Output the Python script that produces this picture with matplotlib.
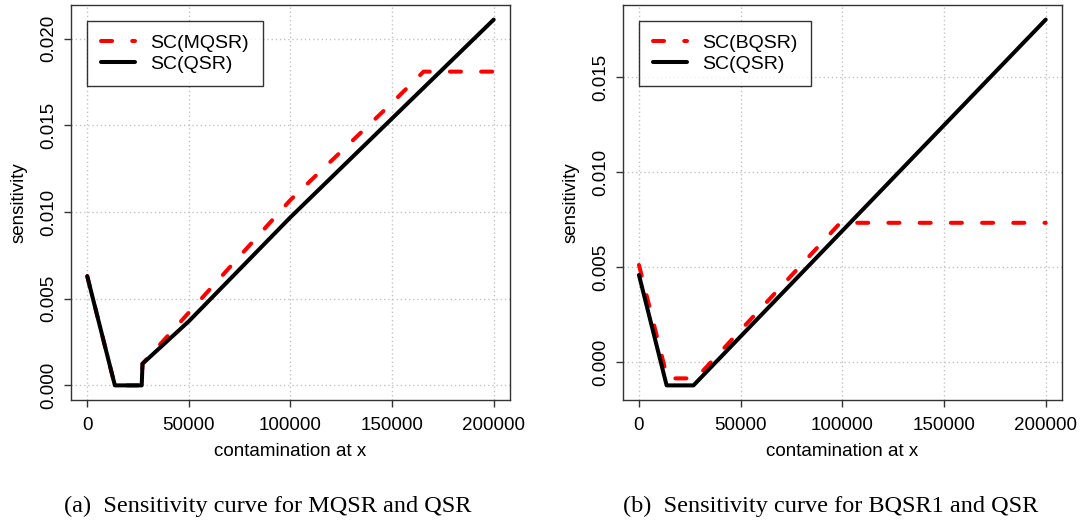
import matplotlib
matplotlib.use("Agg")
import matplotlib.pyplot as plt

plt.rcParams['font.family'] = ['Liberation Sans', 'DejaVu Sans']

# panel (a): MQSR vs QSR
xa_mqsr = [0, 13600, 26800, 27200, 50000, 100000, 125000, 150000, 165500, 200000]
ya_mqsr = [0.0063, 0.0, 0.0, 0.00125, 0.0042, 0.0107, 0.0135, 0.0163, 0.0181, 0.0181]
xa_qsr = [0, 13600, 26800, 27200, 50000, 100000, 150000, 200000]
ya_qsr = [0.0063, 0.0, 0.0, 0.00125, 0.0037, 0.0097, 0.0154, 0.0211]

# panel (b): BQSR vs QSR
xb_bqsr = [0, 14000, 28000, 99000, 200000]
yb_bqsr = [0.00512, -0.00086, -0.00086, 0.00734, 0.00734]
xb_qsr = [0, 13600, 26800, 200000]
yb_qsr = [0.00459, -0.00123, -0.00123, 0.01805]

xticks = [0, 50000, 100000, 150000, 200000]
yticks_a = [0.000, 0.005, 0.010, 0.015, 0.020]
yticks_b = [0.000, 0.005, 0.010, 0.015]

captions = ["(a)  Sensitivity curve for MQSR and QSR",
            "(b)  Sensitivity curve for BQSR1 and QSR"]

fig = plt.figure(figsize=(10.82, 5.26), dpi=100)
ax1 = fig.add_axes([0.0656, 0.2395, 0.4057, 0.751])
ax2 = fig.add_axes([0.5755, 0.2395, 0.4060, 0.751])


def panel(ax, xr, yr, rlabel, xq, yq, yticks):
    ax.plot(xr, yr, color='red', lw=2.9, dashes=(2.75, 5.0),
            dash_capstyle='round', dash_joinstyle='round', label=rlabel, zorder=3)
    ax.plot(xq, yq, color='black', lw=2.9, solid_capstyle='round',
            solid_joinstyle='round', label='SC(QSR)', zorder=4)
    ymin = min(min(yr), min(yq))
    ymax = max(max(yr), max(yq))
    pad = 0.04 * (ymax - ymin)
    ax.set_ylim(ymin - pad, ymax + pad)
    ax.set_xlim(-8000, 208000)
    ax.set_xticks(xticks)
    ax.set_xticklabels([str(t) for t in xticks])
    ax.set_yticks(yticks)
    ax.set_yticklabels(['%.3f' % t for t in yticks], rotation=90, va='center')
    ax.grid(color='#c4c4c4', linestyle=(0, (1, 2)), linewidth=1)
    ax.set_axisbelow(True)
    ax.tick_params(direction='out', length=5, width=1, labelsize=13.5, color='#333333')
    ax.tick_params(axis='y', pad=5)
    ax.tick_params(axis='x', pad=7)
    for s in ax.spines.values():
        s.set_linewidth(1)
        s.set_color('#333333')
    ax.set_xlabel('contamination at x', fontsize=13.5, labelpad=7)
    ax.set_ylabel('sensitivity', fontsize=13.5, labelpad=9)
    leg = ax.legend(loc='upper left', bbox_to_anchor=(0.037, 0.96), borderaxespad=0,
                    fontsize=14, frameon=True, fancybox=False, edgecolor='black',
                    handlelength=1.75, handletextpad=0.8, labelspacing=0.15,
                    borderpad=0.7)
    leg.get_frame().set_linewidth(1)


panel(ax1, xa_mqsr, ya_mqsr, 'SC(MQSR)', xa_qsr, ya_qsr, yticks_a)
panel(ax2, xb_bqsr, yb_bqsr, 'SC(BQSR)', xb_qsr, yb_qsr, yticks_b)

fig.text(0.2475, 0.038, captions[0], ha='center', va='center',
         fontsize=17.5, family=['Liberation Serif', 'DejaVu Serif'])
fig.text(0.768, 0.038, captions[1], ha='center', va='center',
         fontsize=17.5, family=['Liberation Serif', 'DejaVu Serif'])

fig.savefig('out.png', dpi=100)
